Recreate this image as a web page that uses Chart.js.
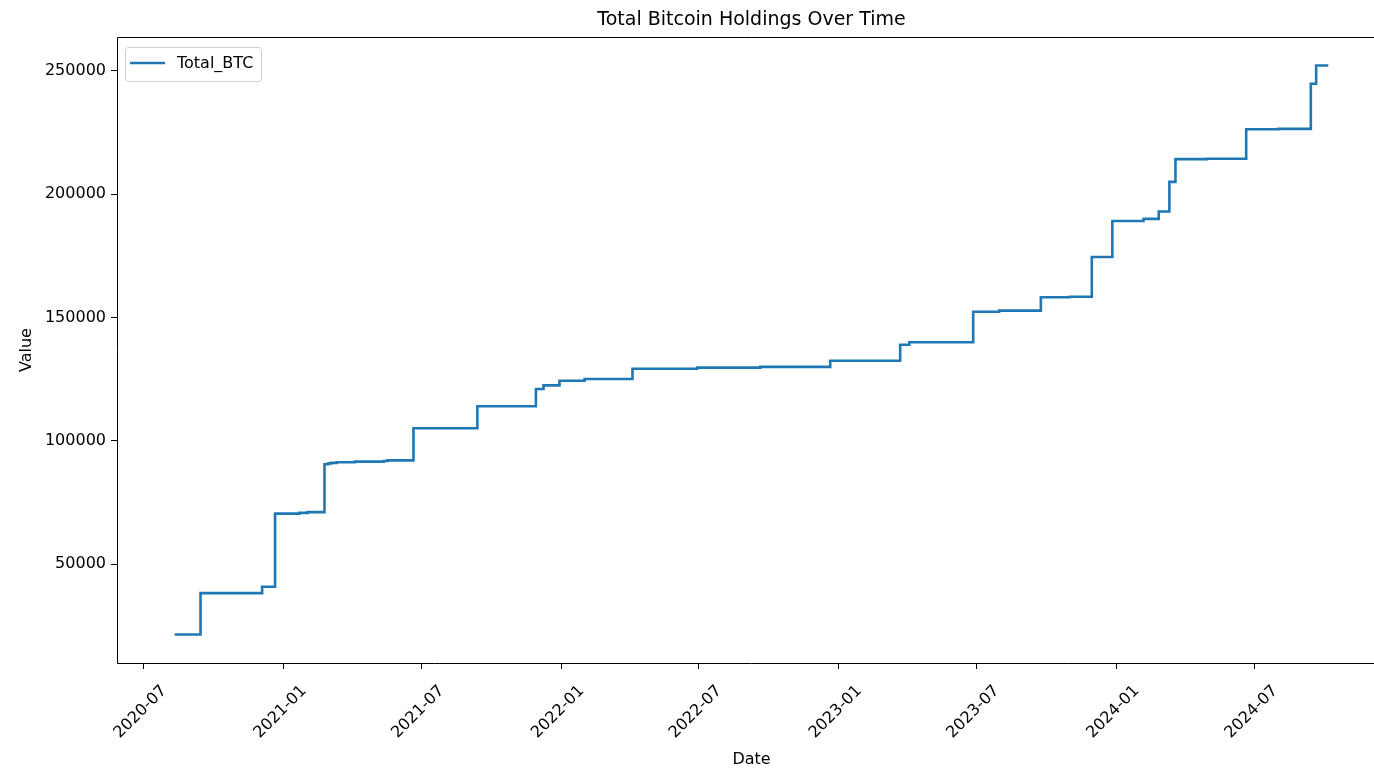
<!DOCTYPE html>
<html>
<head>
<meta charset="utf-8">
<script src="https://cdn.jsdelivr.net/npm/chart.js@4.4.1/dist/chart.umd.min.js"></script>
<style>
  html, body { margin: 0; overflow: hidden; background: #fff; }
</style>
</head>
<body>
<canvas id="myCanvas" width="1400" height="769" style="width:1400px;height:769px"></canvas>
<script>
'use strict';

const dates = ['2020-08-11', '2020-09-14', '2020-12-04', '2020-12-21', '2021-01-22', '2021-02-02', '2021-02-24', '2021-03-01', '2021-03-05', '2021-03-12', '2021-04-05', '2021-05-13', '2021-05-18', '2021-06-21', '2021-09-13', '2021-11-29', '2021-12-09', '2021-12-30', '2022-02-01', '2022-04-05', '2022-06-29', '2022-09-20', '2022-12-21', '2023-03-23', '2023-04-04', '2023-06-27', '2023-07-31', '2023-09-24', '2023-11-01', '2023-11-30', '2023-12-27', '2024-02-06', '2024-02-26', '2024-03-11', '2024-03-19', '2024-04-29', '2024-06-20', '2024-08-01', '2024-09-13', '2024-09-20', '2024-10-06'];
const totalBtc = [21454, 38250, 40824, 70470, 70784, 71079, 90531, 90859, 91064, 91326, 91579, 91850, 92079, 105085, 114042, 121044, 122478, 124391, 125051, 129218, 129699, 130000, 132500, 138955, 140000, 152333, 152800, 158245, 158400, 174530, 189150, 190000, 193000, 205000, 214246, 214400, 226331, 226500, 244800, 252220, 252220];
const xTickDates = ['2020-07', '2021-01', '2021-07', '2022-01', '2022-07', '2023-01', '2023-07', '2024-01', '2024-07'];
const yTickValues = [50000, 100000, 150000, 200000, 250000];

const seriesName = 'Total_BTC';
const lineColor = '#1f77b4';
const font = 'DejaVu Sans';

function toTime(s) {
  if (s.length === 7) s = s + '-01';
  return new Date(s + 'T00:00:00Z').getTime();
}

let points = [];
for (let i = 0; i < dates.length; i++) {
  points.push({ x: toTime(dates[i]), y: totalBtc[i] });
}

// matplotlib style 5% margins
const xFirst = points[0].x;
const xLast = points[points.length - 1].x;
const xPad = (xLast - xFirst) * 0.05;
const yLow = Math.min(...totalBtc);
const yHigh = Math.max(...totalBtc);
const yPad = (yHigh - yLow) * 0.05;

// spines + rotated date labels + legend box
const extras = {
  id: 'extras',
  afterDraw(chart) {
    const ctx = chart.ctx;
    const a = chart.chartArea;
    const l = Math.round(a.left) + 0.5;
    const t = Math.round(a.top) + 0.5;
    const b = Math.round(a.bottom) + 0.5;
    ctx.save();
    ctx.strokeStyle = '#000';
    ctx.lineWidth = 1;
    ctx.beginPath();
    ctx.moveTo(a.right, t);
    ctx.lineTo(l, t);
    ctx.lineTo(l, b);
    ctx.lineTo(a.right, b);
    ctx.stroke();

    const xs = chart.scales.x;
    ctx.fillStyle = '#000';
    ctx.font = '16px "' + font + '"';
    ctx.textAlign = 'center';
    ctx.textBaseline = 'middle';
    xs.ticks.forEach(function (tk, i) {
      const px = xs.getPixelForValue(tk.value);
      ctx.save();
      ctx.translate(px - 3, a.bottom + 49);
      ctx.rotate(-Math.PI / 4);
      ctx.fillText(xTickDates[i], 0, 0);
      ctx.restore();
    });

    // legend
    const lx = a.left + 8;
    const ly = a.top + 10;
    ctx.beginPath();
    ctx.roundRect(lx + 0.5, ly + 0.5, 136, 34, 3);
    ctx.fillStyle = 'rgba(255,255,255,0.8)';
    ctx.fill();
    ctx.strokeStyle = '#d0d0d0';
    ctx.lineWidth = 1;
    ctx.stroke();
    const ds = chart.data.datasets[0];
    ctx.beginPath();
    ctx.moveTo(lx + 5, ly + 16);
    ctx.lineTo(lx + 40, ly + 16);
    ctx.strokeStyle = ds.borderColor;
    ctx.lineWidth = 2.5;
    ctx.stroke();
    ctx.fillStyle = '#000';
    ctx.textAlign = 'left';
    ctx.fillText(ds.label, lx + 52, ly + 17);
    ctx.restore();
  }
};

const chartSection = document.getElementById('myCanvas').getContext('2d');
let myChart = new Chart(chartSection, {
  type: 'line',
  data: {
    datasets: [
      {
        label: seriesName,
        data: points,
        borderColor: lineColor,
        backgroundColor: lineColor,
        borderWidth: 2.6,
        pointRadius: 0,
        stepped: true,
        fill: false,
      },
    ],
  },
  options: {
    responsive: false,
    animation: false,
    devicePixelRatio: 1,
    layout: { padding: { left: 0, right: 14, top: 0, bottom: 0 } },
    plugins: {
      legend: { display: false },
      tooltip: { enabled: false },
      title: {
        display: true,
        fullSize: false,
        text: 'Total Bitcoin Holdings Over Time',
        color: '#000',
        font: { family: font, size: 19, weight: 'normal' },
        padding: { top: 8.6, bottom: 5.6 },
      },
    },
    scales: {
      x: {
        type: 'linear',
        min: xFirst - xPad,
        max: xLast + xPad,
        afterBuildTicks: function (scale) {
          scale.ticks = xTickDates.map(function (d) { return { value: toTime(d) }; });
        },
        afterFit: function (scale) { scale.height = 106; },
        ticks: { display: false },
        grid: { drawOnChartArea: false, drawTicks: true, tickLength: 6, color: '#000' },
        border: { display: false },
        title: {
          display: true,
          text: 'Date',
          color: '#000',
          font: { family: font, size: 16 },
          padding: { top: 0, bottom: 0 },
        },
      },
      y: {
        min: yLow - yPad,
        max: yHigh + yPad,
        afterBuildTicks: function (scale) {
          scale.ticks = yTickValues.map(function (v) { return { value: v }; });
        },
        afterFit: function (scale) { scale.width = 117; },
        ticks: {
          color: '#000',
          padding: 5,
          font: { family: font, size: 16 },
          callback: function (v) { return String(v); },
        },
        grid: { drawOnChartArea: false, drawTicks: true, tickLength: 6, color: '#000' },
        border: { display: false },
        title: {
          display: true,
          text: 'Value',
          color: '#000',
          font: { family: font, size: 16 },
          padding: { top: 17.4, bottom: 0 },
        },
      },
    },
  },
  plugins: [extras],
});
</script>
</body>
</html>
